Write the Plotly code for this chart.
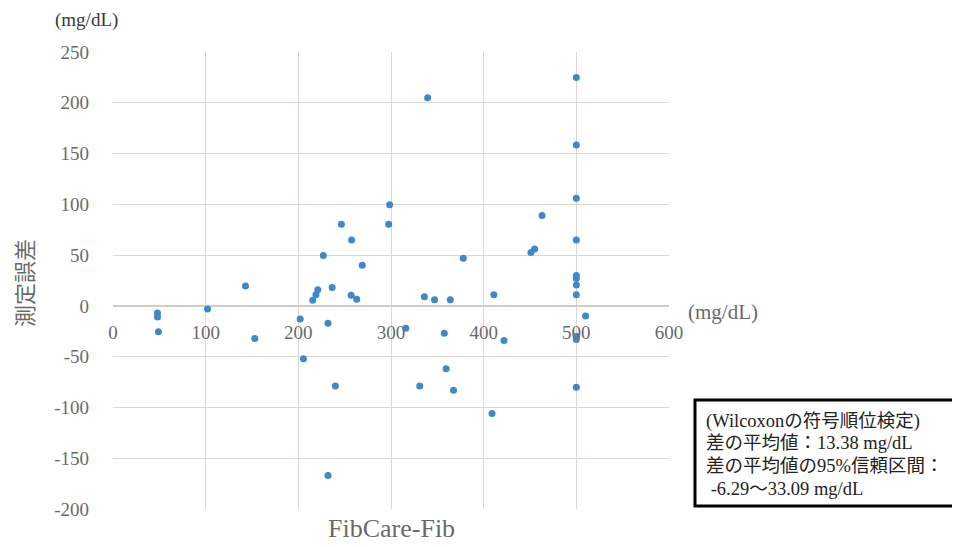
import plotly.graph_objects as go

# ---- data ----
fib_x = [48, 48, 49, 102, 143, 153, 202, 205.5, 215.5, 219, 221, 227, 232, 232,
         236.5, 240, 246.5, 257.5, 257, 263, 269, 297.5, 298.5, 316, 331, 336,
         339.5, 347, 357.5, 359.5, 364, 367.5, 378, 409, 411, 422, 451, 455, 463,
         500, 500, 500, 500, 500, 500, 500, 500, 500, 500, 500, 510]
err_y = [-7, -11, -25.5, -3, 19.5, -32, -13, -52, 5.5, 11, 16, 49.5, -17, -167,
         18, -79, 80.5, 65, 10.5, 6.5, 40, 80.5, 99.5, -22, -79, 9,
         205, 6, -27, -62, 6, -83, 47, -106, 11, -34, 52.5, 56, 89,
         225, 158.5, 106, 65, 30, 27, 20.5, 11, -30, -33, -80, -10]

x_ticks = [0, 100, 200, 300, 400, 500, 600]
x_tick_text = ["0", "100", "200", "300", "400", "500", "600"]
y_ticks = [250, 200, 150, 100, 50, 0, -50, -100, -150, -200]
y_tick_text = ["250", "200", "150", "100", "50", "0", "-50", "-100", "-150", "-200"]

unit_label = "(mg/dL)"
y_title = "測定誤差"
x_title = "FibCare-Fib"
box_lines = ["(Wilcoxonの符号順位検定)",
             "差の平均値：13.38 mg/dL",
             "差の平均値の95%信頼区間：",
             " -6.29～33.09 mg/dL"]

FONT = "Liberation Serif, Noto Sans CJK JP, serif"
GRID = "#ddd6d2"
TICK_COL = "#6a6a6a"

fig = go.Figure()
fig.add_trace(go.Scatter(
    x=fib_x, y=err_y, mode="markers",
    marker=dict(color="#3f88cc", size=7),
    showlegend=False, hoverinfo="x+y"))

# page body has an 8px margin: the figure is drawn offset by (8, 8)
OFF = 8
W, H = 960 - OFF, 547 - OFF
L, R, T, B = 113 - OFF, 291, 52 - OFF, 38
pw, ph = W - L - R, H - T - B

def px(xp):
    return (xp - OFF - L) / pw

def py(yp):
    return (H - B - (yp - OFF)) / ph

fig.update_layout(
    width=W, height=H,
    margin=dict(l=L, r=R, t=T, b=B, pad=0),
    paper_bgcolor="white", plot_bgcolor="white",
    font=dict(family=FONT, color=TICK_COL),
    xaxis=dict(range=[0, 600], tickvals=x_ticks, ticktext=x_tick_text,
               showgrid=True, gridcolor=GRID,
               gridwidth=1.3, zeroline=False, showline=False,
               anchor="free", position=200 / 450,
               ticks="", ticklabelstandoff=13,
               tickfont=dict(size=19, color=TICK_COL, family=FONT)),
    yaxis=dict(range=[-200, 250], tickvals=y_ticks, ticktext=y_tick_text,
               showgrid=True, gridcolor=GRID,
               gridwidth=1.3, zeroline=True, zerolinecolor="#d6ccc6", zerolinewidth=1.5,
               showline=False, ticks="", ticklabelstandoff=23,
               tickfont=dict(size=19, color=TICK_COL, family=FONT)),
)

ann = []
ann.append(dict(text=unit_label, xref="paper", yref="paper", x=px(86), y=py(20),
                xanchor="center", yanchor="middle", showarrow=False,
                font=dict(size=19, color="#3a3a3a", family=FONT)))
ann.append(dict(text=unit_label, xref="paper", yref="paper", x=px(686), y=py(312),
                xanchor="left", yanchor="middle", showarrow=False,
                font=dict(size=21, color=TICK_COL, family=FONT)))
ann.append(dict(text=y_title, xref="paper", yref="paper", x=px(25), y=py(283),
                xanchor="center", yanchor="middle", showarrow=False, textangle=-90,
                font=dict(size=22, color=TICK_COL, family=FONT)))
ann.append(dict(text=x_title, xref="paper", yref="paper", x=px(391), y=py(528),
                xanchor="center", yanchor="middle", showarrow=False,
                font=dict(size=26, color=TICK_COL, family=FONT)))

line_y = [421, 443, 466, 489]
for t, yy in zip(box_lines, line_y):
    ann.append(dict(text=t, xref="paper", yref="paper", x=px(704), y=py(yy),
                    xanchor="left", yanchor="middle", showarrow=False,
                    font=dict(size=18.5, color="#222222", family=FONT)))
fig.update_layout(annotations=ann)

fig.add_shape(type="rect", xref="paper", yref="paper",
              x0=px(695), x1=px(957), y0=py(506), y1=py(400),
              line=dict(color="black", width=3), fillcolor="rgba(0,0,0,0)")

fig.write_html("out.html")
